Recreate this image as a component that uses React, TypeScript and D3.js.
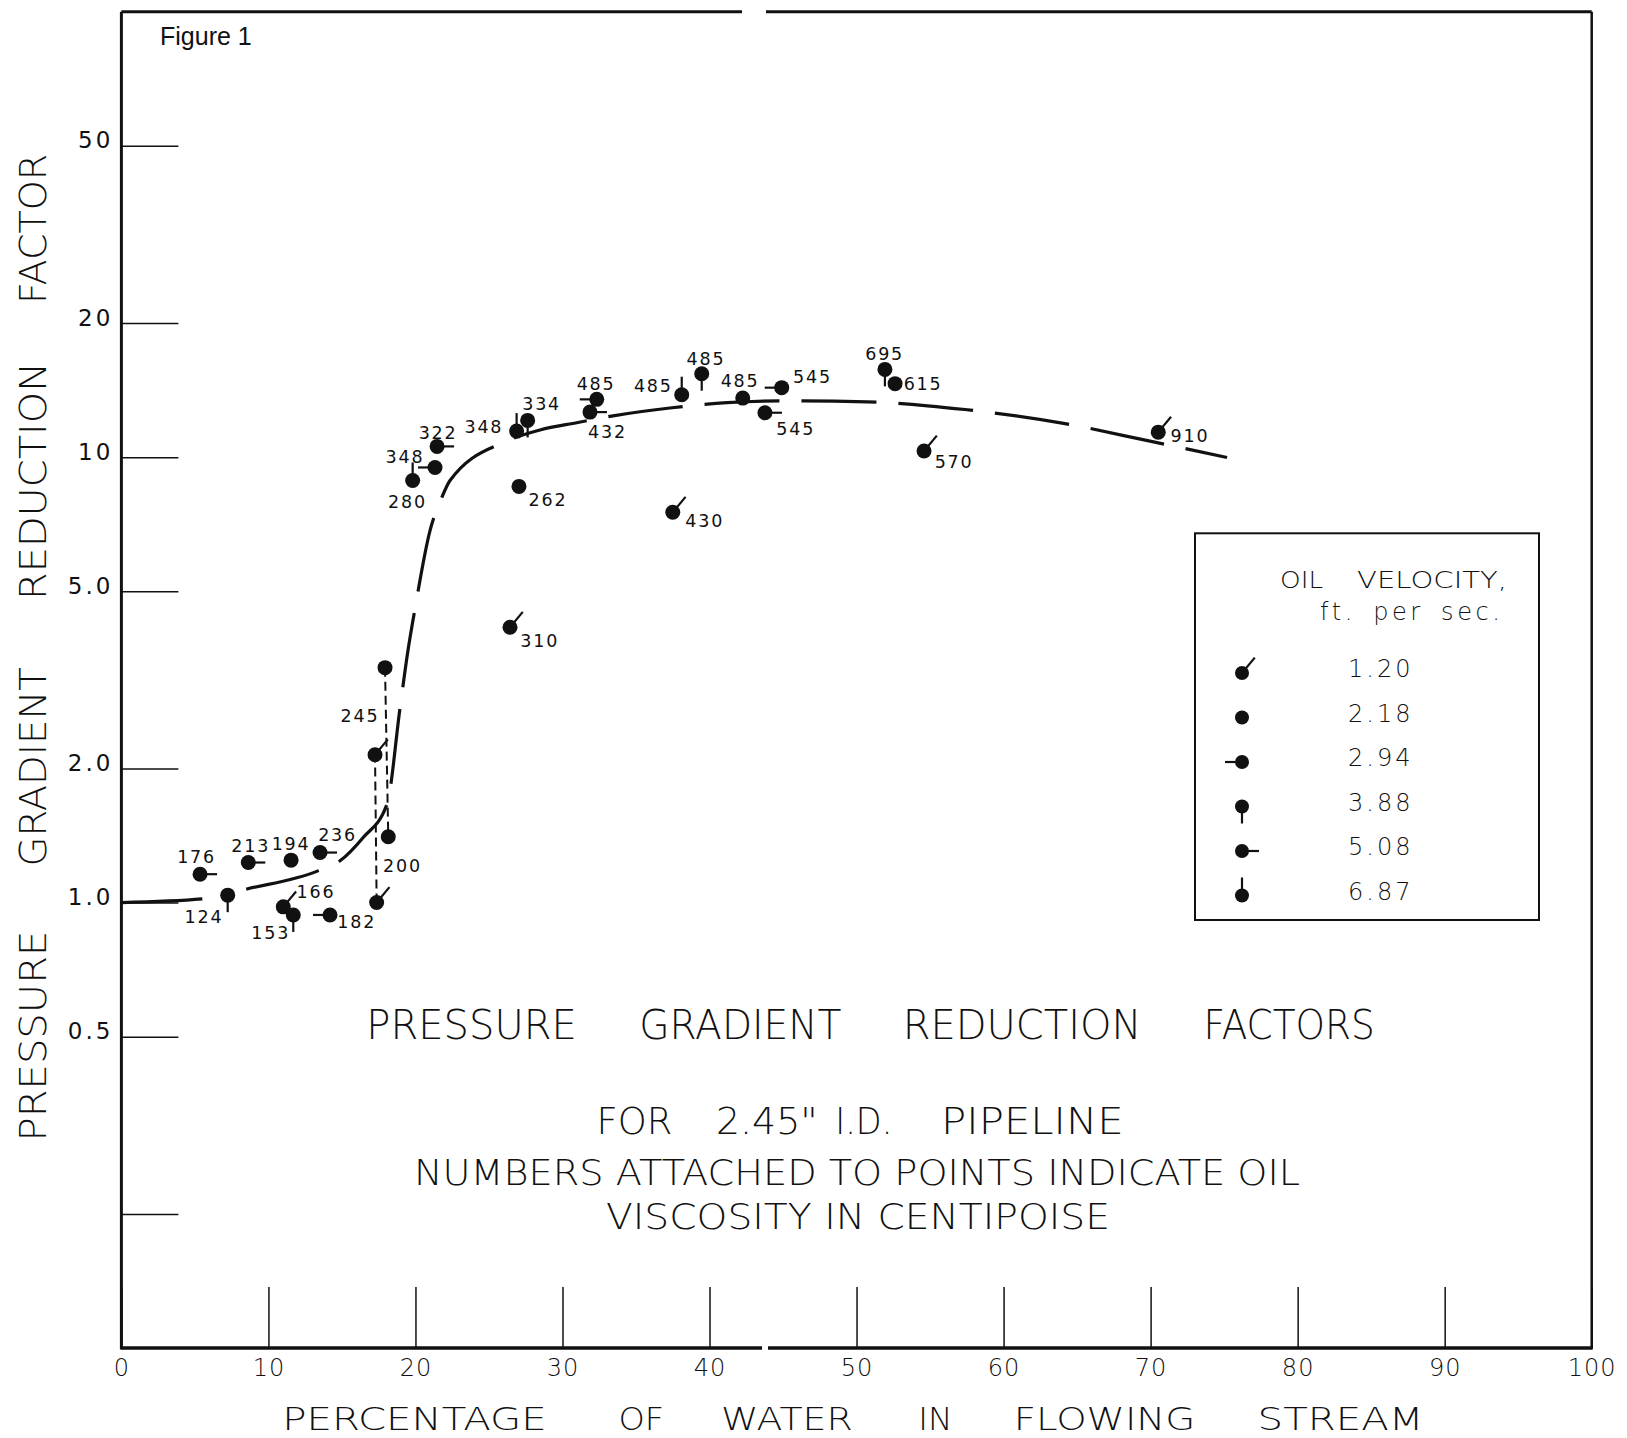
import React, { useEffect, useRef } from "react";
import * as d3 from "d3";

// Measured points: percentage water, reduction factor, oil velocity (index into velocities), viscosity label
const waterPct = [5.35, 7.23, 8.63, 11.54, 13.51, 11.01, 11.69, 14.19, 17.36, 17.25, 17.93, 18.15, 19.81, 21.33, 21.47, 26.88, 27.63, 27.04, 26.43, 32.33, 31.87, 38.11, 39.47, 42.26, 44.91, 43.77, 51.93, 52.62, 54.59, 37.5, 70.52];
const reductionFactor = [1.158, 1.039, 1.23, 1.245, 1.295, 0.978, 0.938, 0.938, 1.0, 2.147, 3.368, 1.405, 8.865, 9.48, 10.57, 11.44, 12.09, 8.595, 4.15, 13.48, 12.62, 13.81, 15.39, 13.57, 14.32, 12.58, 15.74, 14.62, 10.32, 7.52, 11.38];
const velocityIdx = [4, 3, 4, 1, 4, 0, 3, 2, 0, 0, 1, 1, 5, 2, 4, 5, 3, 1, 0, 2, 4, 5, 3, 1, 2, 4, 3, 1, 0, 0, 0];
const viscosity = ["176", "124", "213", "194", "236", "166", "153", "182", "", "245", "", "200", "280", "348", "322", "348", "334", "262", "310", "485", "432", "485", "485", "485", "545", "545", "695", "615", "570", "430", "910"];

// pairs of points joined by a dashed vertical line
const connectors = [[8, 9], [10, 11]];

// hand-drawn mean curve
const fitPct = [0, 5.48, 8.54, 13.37, 14.87, 16.43, 18.07, 18.95, 19.49, 19.97, 20.99, 21.8, 22.35, 26.23, 28.47, 31.05, 33.44, 37.45, 41.19, 45.34, 50.71, 57.37, 64.18, 69.96, 75.2];
const fitFactor = [1.0, 1.019, 1.073, 1.178, 1.241, 1.398, 1.666, 2.735, 3.68, 4.57, 6.84, 8.13, 8.86, 10.87, 11.51, 11.96, 12.38, 12.91, 13.25, 13.38, 13.31, 12.79, 11.89, 10.86, 9.98];

const velocities = ["1.20", "2.18", "2.94", "3.88", "5.08", "6.87"];

const xTicks = [0, 10, 20, 30, 40, 50, 60, 70, 80, 90, 100];
const yTicks = [50, 20, 10, 5, 2, 1, 0.5, 0.2];
const yTickLabels = ["50", "20", "10", "5.0", "2.0", "1.0", "0.5", ""];

// label placement (px offsets from the dot, to the label's baseline centre)
const labelOffset = [
  [-3.5, -11.6], [-23.7, 27.4], [2.4, -11], [0, -10], [17.5, -11.7], [32.7, -9.3], [-22.5, 24], [26.7, 12.7],
  [0, 0], [-15, -32.3], [0, 0], [14.2, 35.7], [-5.2, 28], [-30, -4], [1, -7], [-32.7, 2.3], [14, -10],
  [29, 20], [29.7, 20], [-0.7, -9.5], [17.5, 26.3], [-28.4, -2.6], [4.3, -8.3], [-2.7, -11], [30.8, -4.6],
  [30.8, 22.7], [-0.3, -9.7], [28, 6], [30, 17.3], [32, 15], [31.7, 10],
];

const W = 1627;
const H = 1438;
const INK = "#111";
const FONT = "'DejaVu Sans', Verdana, sans-serif";

const x = d3.scaleLinear().domain([0, 100]).range([121.4, 1591.7]);
const y = d3.scaleLog().domain([0.1, 100]).range([1348, 11.7]);

// tail direction per velocity: dx, dy, length
const tails = [[0.64, -0.77, 20], [0, 0, 0], [-1, 0, 17], [0, 1, 17], [1, 0, 17], [0, -1, 18]];

// the curve's first dash is long, then a gap round the 124 point
const curveDash = "81 45 " + "75 22 ".repeat(40);

function Marker({ cx, cy, v, r = 7.5 }) {
  const [dx, dy, len] = tails[v];
  return (
    <g>
      <circle cx={cx} cy={cy} r={r} fill={INK} />
      {len > 0 && (
        <line x1={cx} y1={cy} x2={cx + dx * len} y2={cy + dy * len} stroke={INK} strokeWidth={2.2} />
      )}
    </g>
  );
}

function Words({ items, baseline, size }) {
  return (
    <>
      {items.map(([t, x0, x1]) => (
        <text key={t + x0} x={x0} y={baseline} fontSize={size} textLength={x1 - x0} lengthAdjust="spacingAndGlyphs">
          {t}
        </text>
      ))}
    </>
  );
}

const yTitle = [["PRESSURE", 1141.4, 930.7], ["GRADIENT", 866.4, 667.2], ["REDUCTION", 600, 362], ["FACTOR", 304, 153.6]];
const xTitle = [["PERCENTAGE", 282.2, 546.8], ["OF", 618.4, 664], ["WATER", 721.1, 852.9], ["IN", 918.3, 952.5], ["FLOWING", 1013.7, 1195.3], ["STREAM", 1257.6, 1423.6]];
const line1 = [["PRESSURE", 366.3, 576.9], ["GRADIENT", 639.2, 841.5], ["REDUCTION", 902.7, 1141.4], ["FACTORS", 1203.6, 1374.8]];
const line2 = [["FOR", 596.6, 672.4], ["2.45\"", 716, 817.6], ["I.D.", 835.3, 892.3], ["PIPELINE", 941.1, 1123.7]];

export default function App() {
  const xAxisRef = useRef(null);
  const yAxisRef = useRef(null);

  useEffect(() => {
    const gx = d3.select(xAxisRef.current);
    gx.call(
      d3.axisBottom(x).tickValues(xTicks).tickSizeInner(-61).tickSizeOuter(0).tickPadding(11).tickFormat((d) => String(d))
    );
    gx.attr("font-family", FONT).attr("font-size", 24);
    gx.select(".domain").remove();
    gx.selectAll(".tick line").attr("stroke", INK).attr("stroke-width", 1.5);
    gx.selectAll(".tick text").attr("fill", INK).attr("letter-spacing", 1).attr("font-weight", 200);

    const gy = d3.select(yAxisRef.current);
    gy.call(
      d3.axisLeft(y).tickValues(yTicks).tickSizeInner(-57).tickSizeOuter(0).tickPadding(8).tickFormat((d, i) => yTickLabels[i])
    );
    gy.attr("font-family", FONT).attr("font-size", 23);
    gy.select(".domain").remove();
    gy.selectAll(".tick line").attr("stroke", INK).attr("stroke-width", 1.5);
    gy.selectAll(".tick text").attr("fill", INK).attr("dy", 2).attr("letter-spacing", 3).attr("font-weight", 400);
  }, []);

  const fit = d3
    .line()
    .x((d) => x(d[0]))
    .y((d) => y(d[1]))
    .curve(d3.curveMonotoneX)(fitPct.map((p, i) => [p, fitFactor[i]]));

  const x0 = x(0);
  const x1 = x(100);
  const yTop = y(100);
  const yBot = y(0.1);

  return (
    <svg
      width={W}
      height={H}
      style={{ position: "absolute", left: 0, top: 0, background: "#fff" }}
      fontFamily={FONT}
      fill={INK}
    >
      <rect width={W} height={H} fill="#fff" />

      {/* frame, with the breaks of the original sheet */}
      <g stroke={INK} fill="none">
        <line x1={x0} y1={yTop} x2={x0} y2={yBot + 1.5} strokeWidth={3} />
        <line x1={x1} y1={yTop} x2={x1} y2={yBot + 1.5} strokeWidth={2.5} />
        <line x1={x0} y1={yTop} x2={742} y2={yTop} strokeWidth={3} />
        <line x1={766} y1={yTop} x2={x1} y2={yTop} strokeWidth={3} />
        <line x1={x0} y1={yBot} x2={762} y2={yBot} strokeWidth={3.5} />
        <line x1={768} y1={yBot} x2={x1} y2={yBot} strokeWidth={3.5} />
      </g>

      <g ref={xAxisRef} transform={`translate(0,${yBot})`} />
      <g ref={yAxisRef} transform={`translate(${x0},0)`} />

      <text x={160} y={44.5} fontFamily="'Liberation Sans', Arial, sans-serif" fontSize={25}>
        Figure 1
      </text>

      {/* axis titles */}
      <g fontWeight={200}>
        <g transform="rotate(-90)">
          {yTitle.map(([t, yb, yt]) => (
            <text key={t} x={-yb} y={45.5} fontSize={37} textLength={yb - yt} lengthAdjust="spacingAndGlyphs">
              {t}
            </text>
          ))}
        </g>
        <Words items={xTitle} baseline={1430} size={32} />

        <Words items={line1} baseline={1038.6} size={40} />
        <Words items={line2} baseline={1134} size={38} />
        <text x={414} y={1185} fontSize={36} textLength={886} lengthAdjust="spacingAndGlyphs">
          NUMBERS ATTACHED TO POINTS INDICATE OIL
        </text>
        <text x={606} y={1228.5} fontSize={36} textLength={504} lengthAdjust="spacingAndGlyphs">
          VISCOSITY IN CENTIPOISE
        </text>
      </g>

      {/* mean curve */}
      <path d={fit} fill="none" stroke={INK} strokeWidth={3.2} strokeDasharray={curveDash} />

      {/* dashed connectors */}
      {connectors.map(([a, b]) => (
        <line
          key={a}
          x1={x(waterPct[a])}
          y1={y(reductionFactor[a])}
          x2={x(waterPct[b])}
          y2={y(reductionFactor[b])}
          stroke={INK}
          strokeWidth={2}
          strokeDasharray="9 5"
        />
      ))}

      {/* data points */}
      {waterPct.map((p, i) => (
        <Marker key={i} cx={x(p)} cy={y(reductionFactor[i])} v={velocityIdx[i]} />
      ))}
      <g fontSize={17.5} letterSpacing={1.8} textAnchor="middle">
        {viscosity.map((t, i) =>
          t ? (
            <text key={i} x={x(waterPct[i]) + labelOffset[i][0]} y={y(reductionFactor[i]) + labelOffset[i][1]}>
              {t}
            </text>
          ) : null
        )}
      </g>

      {/* legend */}
      <rect x={1195} y={533.3} width={344} height={386.7} fill="none" stroke={INK} strokeWidth={2} />
      <g fontWeight={200}>
        <text x={1280} y={588} fontSize={23} textLength={43} lengthAdjust="spacingAndGlyphs">OIL</text>
        <text x={1357} y={588} fontSize={23} textLength={150} lengthAdjust="spacingAndGlyphs">VELOCITY,</text>
        <text x={1320} y={620} fontSize={24} textLength={180} lengthAdjust="spacing" wordSpacing={6}>
          ft. per sec.
        </text>
        {velocities.map((v, i) => (
          <g key={v}>
            <Marker cx={1242} cy={673 + i * 44.5} v={i} r={7} />
            <text x={1348} y={677 + i * 44.5} fontSize={24} letterSpacing={3}>
              {v}
            </text>
          </g>
        ))}
      </g>
    </svg>
  );
}
